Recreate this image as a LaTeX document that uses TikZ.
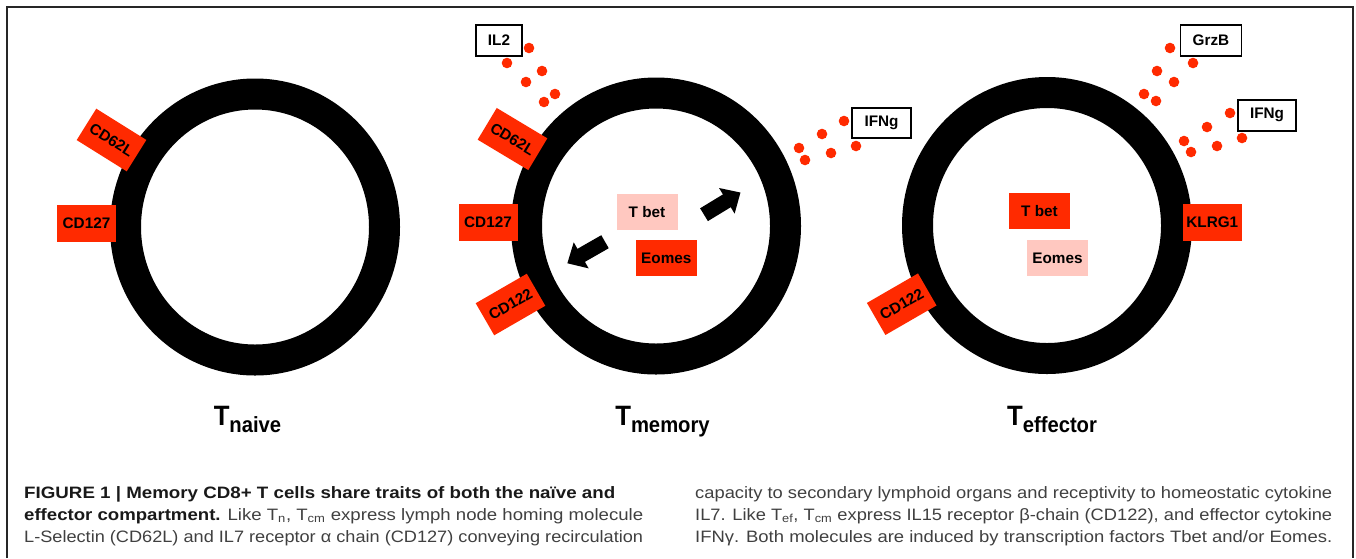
\documentclass[tikz,border=0pt]{standalone}
\usepackage{fontspec}
\usepackage{graphicx}
\setmainfont{Liberation Sans}
\newfontfamily\tagfont{Liberation Sans}[FakeStretch=0.92]
\usepackage{tikz}
\usetikzlibrary{arrows.meta}

\definecolor{tagred}{HTML}{FF2A00}
\definecolor{tagpink}{HTML}{FFC8C0}

\begin{document}
\begin{tikzpicture}[
  x=1pt, y=-1pt,
  ring/.style={line width=31pt},
  tag/.style={fill=#1, minimum width=59pt, minimum height=37pt, inner sep=0pt,
    font=\bfseries\fontsize{15.3}{15.3}\selectfont},
  tag/.default=tagred,
  cyto/.style={draw, line width=1.5pt, fill=white, minimum height=31pt, inner sep=0pt,
    font=\bfseries\fontsize{15.3}{15.3}\selectfont},
  dot/.style={fill=tagred},
  blk/.style={line width=15pt, -{Triangle[length=16pt, width=29pt]}},
  cell/.style={font=\tagfont\bfseries\fontsize{28}{28}\selectfont, anchor=base, inner sep=0pt},
  capline/.style={anchor=base west, inner sep=0pt, font=\fontsize{16.5}{16.5}\selectfont, text=black!75},
]
  \useasboundingbox (0,0) rectangle (1356,558);
  \draw[line width=2pt, black!85] (7,558) -- (7,7) -- (1353,7) -- (1353,558);

  % the three cells
  \draw[ring] (255,227) ellipse [x radius=129.5, y radius=133];
  \draw[ring] (656,226) ellipse [x radius=129.5, y radius=133];
  \draw[ring] (1047,225.5) ellipse [x radius=129.5, y radius=133];

  % naive
  \node[tag, rotate=-32] (n62l) at (111.5,140) {CD62L};
  \node[tag] (n127) at (86.5,223.5) {CD127};

  % memory
  \node[tag, rotate=-31] (m62l) at (512.5,139) {CD62L};
  \node[tag] (m127) at (488,222.3) {CD127};
  \node[tag, rotate=30] (m122) at (510.5,304.5) {CD122};
  \node[tag=tagpink, minimum width=61pt, minimum height=36pt] (mtbet) at (647,212) {T bet};
  \node[tag, minimum width=61pt, minimum height=36pt] (meomes) at (666.3,258) {Eomes};
  \node[cyto, minimum width=46pt] (mil2) at (499,40.5) {IL2};
  \node[cyto, minimum width=59pt, minimum height=30pt] (mifng) at (881.5,123) {IFNg};
  \foreach \x/\y in {529/48, 507/63, 542/71, 526/82, 555/94, 544/102}
    \fill[dot] (\x,\y) circle [radius=5.3];
  \foreach \x/\y in {844/121, 822/134, 856/146, 799/148, 831/153, 805/160}
    \fill[dot] (\x,\y) circle [radius=5.3];
  \coordinate (up0) at (704,214.7);
  \coordinate (up1) at (740.5,192.5);
  \coordinate (dn0) at (605,241.7);
  \coordinate (dn1) at (567.3,263.3);
  \draw[blk] (up0) -- (up1);
  \draw[blk] (dn0) -- (dn1);

  % effector
  \node[tag, rotate=30] (e122) at (901.7,304.2) {CD122};
  \node[tag] (eklrg) at (1212.3,222) {KLRG1};
  \node[tag, minimum width=61pt, minimum height=36pt] (etbet) at (1039.5,211.2) {T bet};
  \node[tag=tagpink, minimum width=61pt, minimum height=36pt] (eeomes) at (1057.5,258) {Eomes};
  \node[cyto, minimum width=61pt] (egrzb) at (1211,40.3) {GrzB};
  \node[cyto, minimum width=58pt] (eifng) at (1267,115.3) {IFNg};
  \foreach \x/\y in {1170/48, 1193/63, 1157/71, 1174/82, 1144/94, 1156/101}
    \fill[dot] (\x,\y) circle [radius=5.3];
  \foreach \x/\y in {1230/113, 1207/127, 1242/138, 1184/141, 1217/146, 1191/152}
    \fill[dot] (\x,\y) circle [radius=5.3];

  % names
  \node[cell] (tnaive) at (247.5,425.5) {T\raisebox{-7pt}{\fontsize{22}{22}\selectfont naive}};
  \node[cell] (tmemory) at (662.5,425.5) {T\raisebox{-7pt}{\fontsize{22}{22}\selectfont memory}};
  \node[cell] (teffector) at (1052,425.5) {T\raisebox{-7pt}{\fontsize{22}{22}\selectfont effector}};

  % caption
  \node[capline] (capa) at (24,498) {\resizebox{591pt}{\height}{\color{black!90}\bfseries FIGURE 1 | Memory CD8+ T cells share traits of both the naïve and}};
  \node[capline] (capb) at (24,520) {\resizebox{619pt}{\height}{{\color{black!90}\bfseries effector compartment.} Like T\textsubscript{n}, T\textsubscript{cm} express lymph node homing molecule}};
  \node[capline] (capc) at (24,542) {\resizebox{619pt}{\height}{L-Selectin (CD62L) and IL7 receptor α chain (CD127) conveying recirculation}};
  \node[capline] (capd) at (695,498) {\resizebox{637pt}{\height}{capacity to secondary lymphoid organs and receptivity to homeostatic cytokine}};
  \node[capline] (cape) at (695,520) {\resizebox{637pt}{\height}{IL7. Like T\textsubscript{ef}, T\textsubscript{cm} express IL15 receptor β-chain (CD122), and effector cytokine}};
  \node[capline] (capf) at (695,542) {\resizebox{637pt}{\height}{IFNγ. Both molecules are induced by transcription factors Tbet and/or Eomes.}};
\end{tikzpicture}
\end{document}
